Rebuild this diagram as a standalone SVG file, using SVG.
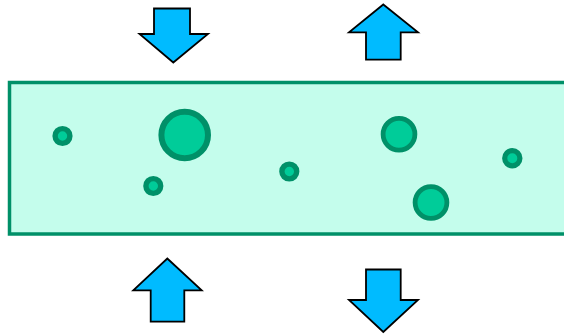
<svg xmlns="http://www.w3.org/2000/svg" width="564" height="334" viewBox="0 0 564 334">
<style>
.arrow{fill:#00bbff;stroke:#000;stroke-width:1.8;stroke-linejoin:miter}
.bubble{fill:#00cc99;stroke:#009068}
.tube{fill:#c4fdec;stroke:#009068;stroke-width:3.5}
</style>
<rect width="564" height="334" fill="#fff"/>
<g id="tube"><rect class="tube" x="9.5" y="82.5" width="570" height="151.5"/></g>
<g id="bubbles">
<circle class="bubble" cx="62.5" cy="136" r="7.4" stroke-width="5.4"/>
<circle class="bubble" cx="184.7" cy="135" r="23.3" stroke-width="6"/>
<circle class="bubble" cx="153.3" cy="186" r="7.4" stroke-width="5.4"/>
<circle class="bubble" cx="289.3" cy="171.5" r="7.4" stroke-width="5.4"/>
<circle class="bubble" cx="399" cy="134.3" r="15.9" stroke-width="4.8"/>
<circle class="bubble" cx="431" cy="202.5" r="15.9" stroke-width="4.8"/>
<circle class="bubble" cx="512.3" cy="158.3" r="7.6" stroke-width="5.2"/>
</g>
<g id="arrows">
<polygon id="arrow-in-top" class="arrow" points="154,8.5 190,8.5 190,34 208,34 173.3,62.5 139.5,34 154,34"/>
<polygon id="arrow-out-top" class="arrow" points="383.3,4.5 418,32.3 400.7,32.3 400.7,59.7 366,59.7 366,32.3 349,32.3"/>
<polygon id="arrow-in-bottom" class="arrow" points="167.3,258.5 201.7,290.3 184.3,290.3 184.3,321.7 150.7,321.7 150.7,290.3 133.3,290.3"/>
<polygon id="arrow-out-bottom" class="arrow" points="366,269.5 400.7,269.5 400.7,300 418,300 383.3,332 349,300 366,300"/>
</g>
</svg>
